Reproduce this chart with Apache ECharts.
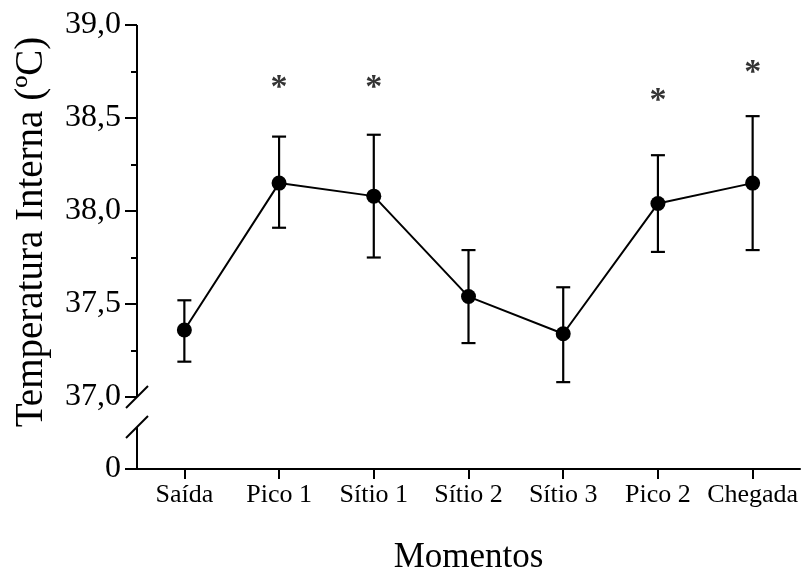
<!DOCTYPE html>
<html><head><meta charset="utf-8">
<script src="https://cdn.jsdelivr.net/npm/echarts@6/dist/echarts.min.js"></script>
<style>html,body{margin:0;padding:0;background:#fff}#chart{width:805px;height:573px}</style>
</head><body><div id="chart"></div>
<script>
// Internal temperature (mean ± SD) at each moment of the route
const categories = ['Saída', 'Pico 1', 'Sítio 1', 'Sítio 2', 'Sítio 3', 'Pico 2', 'Chegada'];
const meanTemp  = [37.36, 38.15, 38.08, 37.54, 37.34, 38.04, 38.15];
const upperErr  = [37.52, 38.40, 38.41, 37.79, 37.59, 38.30, 38.51];
const lowerErr  = [37.19, 37.91, 37.75, 37.29, 37.08, 37.78, 37.79];
// asterisk (significant difference) heights, null where none
const asteriskLevel = [null, 38.66, 38.66, null, null, 38.59, 38.74];
const majorTicks = [37.0, 37.5, 38.0, 38.5, 39.0];
const minorTicks = [37.25, 37.75, 38.25, 38.75];

// The y axis is broken: 0 is drawn just below 37,0 on a compressed stretch.
const ZERO_POS = 36.613;          // scale position where "0" is drawn
const Y_MAX = 39.0;
const FONT = '"Liberation Serif", "Times New Roman", serif';

const fmt = v => (v < 36.9 ? '0' : v.toFixed(1).replace('.', ','));

const chart = echarts.init(document.getElementById('chart'), null, { renderer: 'canvas' });

const option = {
  backgroundColor: '#fff',
  animation: false,
  grid: { left: 137, right: 5, top: 25, bottom: 104, containLabel: false, outerBoundsMode: 'none' },
  xAxis: {
    type: 'category',
    data: categories,
    boundaryGap: true,
    axisLine: { show: true, lineStyle: { color: '#000', width: 2 } },
    axisTick: { show: true, alignWithLabel: true, length: 10, lineStyle: { color: '#000', width: 2 } },
    axisLabel: { color: '#000', fontFamily: FONT, fontSize: 26, margin: 13, interval: 0 },
    splitLine: { show: false },
    name: 'Momentos',
    nameLocation: 'middle',
    nameGap: 71,
    nameTextStyle: { color: '#000', fontFamily: FONT, fontSize: 35 }
  },
  yAxis: [
    {
      type: 'value',
      min: ZERO_POS,
      max: Y_MAX,
      axisLine: { show: false },
      axisTick: {
        show: true, length: 12, inside: false,
        customValues: [ZERO_POS].concat(majorTicks),
        lineStyle: { color: '#000', width: 2 }
      },
      axisLabel: {
        color: '#000', fontFamily: FONT, fontSize: 32, margin: 16,
        customValues: [ZERO_POS].concat(majorTicks),
        formatter: fmt
      },
      splitLine: { show: false },
      name: 'Temperatura Interna (ºC)',
      nameLocation: 'middle',
      nameGap: 86,
      nameTextStyle: { color: '#000', fontFamily: FONT, fontSize: 39, padding: [0, 0, 0, 30] }
    },
    {
      // minor ticks only
      type: 'value',
      min: ZERO_POS,
      max: Y_MAX,
      position: 'left',
      axisLine: { show: false },
      axisTick: {
        show: true, length: 6,
        customValues: minorTicks,
        lineStyle: { color: '#000', width: 2 }
      },
      axisLabel: { show: false, customValues: minorTicks },
      splitLine: { show: false }
    }
  ],
  series: [
    {
      name: 'errorbars',
      type: 'custom',
      z: 2,
      data: categories.map((c, i) => [i, lowerErr[i], upperErr[i]]),
      renderItem: function (params, api) {
        const x = api.value(0);
        const lo = api.coord([x, api.value(1)]);
        const hi = api.coord([x, api.value(2)]);
        const half = 7;
        const style = { stroke: '#000', lineWidth: 2.2, fill: null };
        return {
          type: 'group',
          children: [
            { type: 'line', shape: { x1: hi[0], y1: hi[1], x2: lo[0], y2: lo[1] }, style },
            { type: 'line', shape: { x1: hi[0] - half, y1: hi[1], x2: hi[0] + half, y2: hi[1] }, style },
            { type: 'line', shape: { x1: lo[0] - half, y1: lo[1], x2: lo[0] + half, y2: lo[1] }, style }
          ]
        };
      }
    },
    {
      name: 'Temperatura',
      type: 'line',
      z: 3,
      data: meanTemp,
      symbol: 'circle',
      symbolSize: 15,
      itemStyle: { color: '#000' },
      lineStyle: { color: '#000', width: 2 }
    },
    {
      name: 'significance',
      type: 'scatter',
      z: 4,
      data: asteriskLevel.map((v, i) => (v == null ? null : [i, v])).filter(d => d),
      symbolSize: 0,
      itemStyle: { color: '#000' },
      label: {
        show: true, position: 'inside', formatter: '*',
        color: '#000', fontFamily: FONT, fontSize: 34, fontWeight: 'bold',
        textBorderWidth: 0
      }
    }
  ]
};

chart.setOption(option);

// Broken axis line: upper part from 39,0 down to the break, lower part from 0 up,
// with a slash at each end of the gap.
function drawAxisBreak() {
  const yTop = chart.convertToPixel({ yAxisIndex: 0 }, Y_MAX);
  const yUpper = chart.convertToPixel({ yAxisIndex: 0 }, 37.0);
  const yZero = chart.convertToPixel({ yAxisIndex: 0 }, ZERO_POS);
  const x = chart.convertToPixel({ xAxisIndex: 0 }, categories[0]) - chart.getModel().getComponent('xAxis', 0).axis.getBandWidth() / 2;
  const yLower = yZero - 42;
  const s = 11;
  const st = { stroke: '#000', lineWidth: 2 };
  chart.setOption({
    graphic: [
      { type: 'line', shape: { x1: x, y1: yTop, x2: x, y2: yUpper }, style: st, z: 10 },
      { type: 'line', shape: { x1: x, y1: yLower, x2: x, y2: yZero }, style: st, z: 10 },
      { type: 'line', shape: { x1: x - s, y1: yUpper + s, x2: x + s, y2: yUpper - s }, style: st, z: 10 },
      { type: 'line', shape: { x1: x - s, y1: yLower + s, x2: x + s, y2: yLower - s }, style: st, z: 10 }
    ]
  });
}
drawAxisBreak();
</script>
</body></html>
